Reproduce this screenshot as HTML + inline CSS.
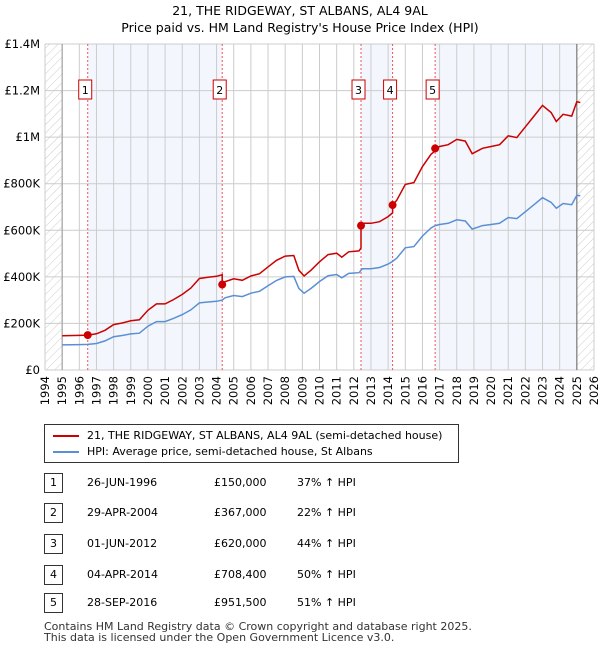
<!DOCTYPE html>
<html><head><meta charset="utf-8">
<style>
body{margin:0;background:#fff;font-family:"DejaVu Sans","Liberation Sans",sans-serif;color:#000}
#wrap{position:relative;width:600px;height:650px;overflow:hidden}
.t{position:absolute;font-size:11px;white-space:nowrap}
</style></head><body>
<div id="wrap">
<svg id="chart" width="600" height="420" style="position:absolute;left:0;top:0"></svg>
<div style="position:absolute;left:44px;top:424px;width:413px;height:37px;border:1px solid #333;background:#fff">
  <div style="position:absolute;left:8px;top:4px;font-size:11px;white-space:nowrap"><span style="display:inline-block;width:26px;height:2px;background:#cc0000;vertical-align:middle;margin-right:8px"></span>21, THE RIDGEWAY, ST ALBANS, AL4 9AL (semi-detached house)</div>
  <div style="position:absolute;left:8px;top:20px;font-size:11px;white-space:nowrap"><span style="display:inline-block;width:26px;height:2px;background:#5b8fd4;vertical-align:middle;margin-right:8px"></span>HPI: Average price, semi-detached house, St Albans</div>
</div>
<div id="table"></div>
<div class="t" style="left:44px;top:620px;color:#333">Contains HM Land Registry data © Crown copyright and database right 2025.</div>
<div class="t" style="left:44px;top:631px;color:#333">This data is licensed under the Open Government Licence v3.0.</div>
</div>
<script>
const hpiYears=[1995,1996,1996.5,1997,1997.5,1998,1998.5,1999,1999.5,2000,2000.5,2001,2001.5,2002,2002.5,2003,2003.5,2004,2004.33,2004.5,2005,2005.5,2006,2006.5,2007,2007.5,2008,2008.5,2008.8,2009.1,2009.5,2010,2010.5,2011,2011.3,2011.7,2012.3,2012.5,2013,2013.5,2014,2014.25,2014.5,2015,2015.5,2016,2016.5,2016.75,2017,2017.5,2018,2018.5,2018.9,2019.5,2020,2020.5,2021,2021.5,2022,2022.5,2023,2023.5,2023.8,2024.2,2024.7,2025,2025.2];
const hpiValues=[108,109,110,114,125,143,148,155,158,188,208,208,222,238,258,288,292,295,300,310,320,315,330,338,362,385,400,402,350,330,350,380,405,410,396,415,418,435,435,440,455,466,480,525,530,575,610,620,625,630,645,640,605,620,625,630,655,650,680,710,740,720,695,715,710,750,748];
const saleDates=[1996.49,2004.33,2012.42,2014.26,2016.74];
const salePrices=[150,367,620,708.4,951.5];
const saleLabels=["1","2","3","4","5"];
const saleDateText=["26-JUN-1996","29-APR-2004","01-JUN-2012","04-APR-2014","28-SEP-2016"];
const salePriceText=["£150,000","£367,000","£620,000","£708,400","£951,500"];
const saleHpiText=["37% ↑ HPI","22% ↑ HPI","44% ↑ HPI","50% ↑ HPI","51% ↑ HPI"];
const yTicks=[0,200,400,600,800,1000,1200,1400];
const yTickLabels=["£0","£200K","£400K","£600K","£800K","£1M","£1.2M","£1.4M"];
const xYears=[];for(let y=1994;y<=2026;y++)xYears.push(y);

const NS="http://www.w3.org/2000/svg";
const FF="DejaVu Sans, Liberation Sans, sans-serif";
const svg=document.getElementById('chart');
const L=45,R=594,T=44,B=370;
const X=y=>L+(y-1994)*(R-L)/32;
const Y=v=>B-v*(B-T)/1400;
function el(tag,attrs,parent){const e=document.createElementNS(NS,tag);for(const k in attrs)e.setAttribute(k,attrs[k]);(parent||svg).appendChild(e);return e;}
function hpiAt(t){for(let i=0;i<hpiYears.length-1;i++){if(t<=hpiYears[i+1]){const f=(t-hpiYears[i])/(hpiYears[i+1]-hpiYears[i]);return hpiValues[i]+f*(hpiValues[i+1]-hpiValues[i]);}}return hpiValues[hpiValues.length-1];}

let tt=el('text',{x:300,y:15,'text-anchor':'middle','font-size':12.5,'font-family':FF});tt.textContent="21, THE RIDGEWAY, ST ALBANS, AL4 9AL";

let st=el('text',{x:300,y:32,'text-anchor':'middle','font-size':12.5,'font-family':FF});st.textContent="Price paid vs. HM Land Registry's House Price Index (HPI)";


const defs=el('defs',{});const pat=el('pattern',{id:'hatch',width:6,height:6,patternUnits:'userSpaceOnUse',patternTransform:'rotate(45)'},defs);
el('line',{x1:0,y1:0,x2:0,y2:6,stroke:'#ccc','stroke-width':1},pat);

el('rect',{x:L,y:T,width:R-L,height:B-T,fill:'#fff'});
const bands=[[saleDates[0],saleDates[1]],[saleDates[2],saleDates[3]],[saleDates[4],2025]];
bands.forEach(b=>{const r=el('rect',{x:X(b[0]),y:T,width:X(b[1])-X(b[0]),height:B-T,fill:'#eef3fc',opacity:0.7});});
el('rect',{x:L,y:T,width:X(1995)-L,height:B-T,fill:'url(#hatch)'});
el('rect',{x:X(2025),y:T,width:R-X(2025),height:B-T,fill:'url(#hatch)'});
xYears.forEach(y=>{const g=el('line',{x1:X(y),y1:T,x2:X(y),y2:B,stroke:'#ccc','stroke-width':1});
 const t=el('text',{transform:`translate(${X(y)+4},${B+6}) rotate(-90)`,'text-anchor':'end','font-size':11.5,'font-family':FF});t.textContent=y;
 });
yTicks.forEach((v,i)=>{const g=el('line',{x1:L,y1:Y(v),x2:R,y2:Y(v),stroke:'#ccc','stroke-width':1});
 const t=el('text',{x:L-5,y:Y(v)+4,'text-anchor':'end','font-size':11.5,'font-family':FF});t.textContent=yTickLabels[i];
 });
el('line',{x1:X(1995),y1:T,x2:X(1995),y2:B,stroke:'#999'});
el('line',{x1:X(2025),y1:T,x2:X(2025),y2:B,stroke:'#666'});
saleDates.forEach(d=>{const l=el('line',{x1:X(d),y1:T,x2:X(d),y2:B,stroke:'#e55','stroke-width':1,'stroke-dasharray':'2,2'});});
const hp=hpiYears.map((y,i)=>X(y).toFixed(1)+','+Y(hpiValues[i]).toFixed(1)).join(' ');
const hl=el('polyline',{points:hp,fill:'none',stroke:'#5b8fd4','stroke-width':1.5});

function ratioAt(t){let k=0;for(let i=0;i<saleDates.length;i++)if(t>=saleDates[i])k=i;return salePrices[k]/hpiAt(saleDates[k]);}
const pts=[];const times=[...hpiYears,...saleDates].sort((a,b)=>a-b);
times.forEach(t=>{
 const idx=saleDates.indexOf(t);
 if(idx>0){pts.push([t,hpiAt(t)*salePrices[idx-1]/hpiAt(saleDates[idx-1])]);}
 pts.push([t,hpiAt(t)*ratioAt(t)]);});
const pl=el('polyline',{points:pts.map(p=>X(p[0]).toFixed(1)+','+Y(p[1]).toFixed(1)).join(' '),fill:'none',stroke:'#cc0000','stroke-width':1.5});

saleDates.forEach((d,i)=>{
 const c=el('circle',{cx:X(d),cy:Y(salePrices[i]),r:4,fill:'#cc0000'});
 const bx=X(d)-9;
 const r=el('rect',{x:bx,y:80,width:13,height:19,fill:'#fff',stroke:'#cc0000','stroke-width':1});
 const t=el('text',{x:bx+6.5,y:94,'text-anchor':'middle','font-size':11,'font-family':FF});t.textContent=saleLabels[i];
});

const tb=document.getElementById('table');
const rowY=[483,513,544,575,603];
saleLabels.forEach((lab,i)=>{
 const row=document.createElement('div');row.style.cssText=`position:absolute;left:0;top:${rowY[i]-10}px;width:600px;height:20px`;
 
 
 row.innerHTML=`<div style="position:absolute;left:44px;top:0;width:17px;height:18px;border:1px solid #333;font-size:11px;text-align:center;line-height:18px">${lab}</div>
 <div class="t" style="left:87px;top:3px">${saleDateText[i]}</div>
 <div class="t" style="left:214px;top:3px">${salePriceText[i]}</div>
 <div class="t" style="left:297px;top:3px">${saleHpiText[i]}</div>`;
 tb.appendChild(row);
});
</script>
</body></html>
